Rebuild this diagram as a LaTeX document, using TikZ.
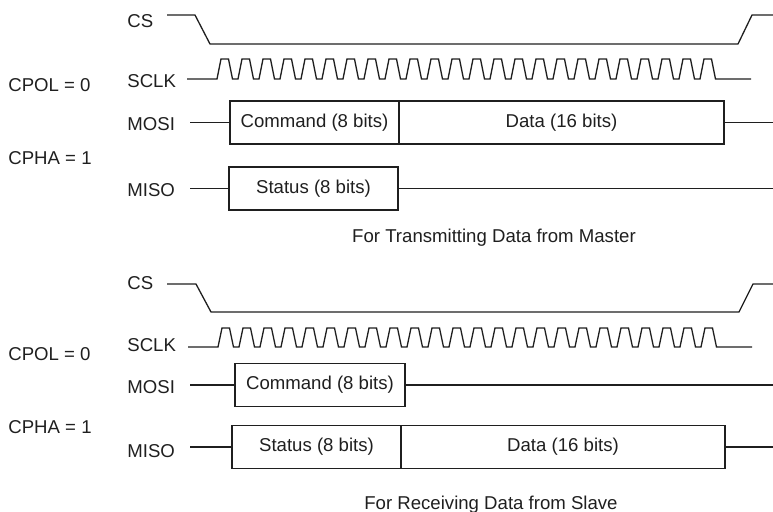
\documentclass[tikz,border=0pt]{standalone}
\usepackage{fontspec}
\setmainfont{Liberation Sans}
\usetikzlibrary{positioning}
\colorlet{myink}{black!88}
\tikzset{
  sig/.style={myink, line width=0.65pt, line join=miter},
  sig label/.style={anchor=base west, inner sep=0, text=myink},
  field/.style={draw=myink, line width=0.65pt, rectangle, minimum height=21.5pt, inner sep=0, outer sep=0, text=myink},
  caption/.style={anchor=base, inner sep=0, text=myink}
}

\begin{document}
\begin{tikzpicture}[x=0.5pt, y=-0.5pt, font=\fontsize{9.3}{11}\selectfont]
\useasboundingbox (0,0) rectangle (773,511);
\coordinate (rim) at (773,0);

% Transmitting data from master
\node[sig label] (csA) at (127,27) {CS};
\node[sig label] (sclkA) at (127,87) {SCLK};
\node[sig label] (mosiA) at (127,130) {MOSI};
\node[sig label] (misoA) at (127,196) {MISO};
\node[sig label] (cpolA) at (8,91) {CPOL = 0};
\node[sig label] (cphaA) at (8,164) {CPHA = 1};

\node[field, minimum width=84.5pt] (cmdA) at (314.5,122.5) {Command (8 bits)};
\node[field, minimum width=162.5pt, right=0pt of cmdA] (dataA) {Data (16 bits)};
\node[field, minimum width=84.5pt] (statusA) at (313.5,188.5) {Status (8 bits)};

\node[caption] (capA) at (494,242) {For Transmitting Data from Master};

\draw[sig] (167,15) -- ++(28,0) -- ++(15,29) -- (738,44) -- ++(14,-29) -- (773,15);
\draw[sig] (187,79) -- ++(30,0)
  foreach \k in {0,...,23} { -- ++(4,-20) -- ++(7.5,0) -- ++(4,20) -- ++(5.5,0) }
  -- (751,79);
\draw[sig, shorten <=7.5pt] (mosiA.east |- cmdA) -- (cmdA);
\draw[sig] (dataA.east) -- (dataA.east -| rim);
\draw[sig, shorten <=7.5pt] (misoA.east |- statusA) -- (statusA);
\draw[sig] (statusA.east) -- (statusA.east -| rim);

% Receiving data from slave
\node[sig label] (csB) at (127,289) {CS};
\node[sig label] (sclkB) at (127,351) {SCLK};
\node[sig label] (mosiB) at (127,393) {MOSI};
\node[sig label] (misoB) at (127,457) {MISO};
\node[sig label] (cpolB) at (8,360) {CPOL = 0};
\node[sig label] (cphaB) at (8,433) {CPHA = 1};

\node[field, minimum width=85pt] (cmdB) at (320,385) {Command (8 bits)};
\node[field, minimum width=84.5pt] (statusB) at (316.5,447) {Status (8 bits)};
\node[field, minimum width=162pt, right=0pt of statusB] (dataB) {Data (16 bits)};

\node[caption] (capB) at (491,509) {For Receiving Data from Slave};

\draw[sig] (167,284) -- ++(29,0) -- ++(15,28) -- (739,312) -- ++(14,-28) -- (773,284);
\draw[sig] (188,347) -- ++(30,0)
  foreach \k in {0,...,23} { -- ++(4,-19) -- ++(7.5,0) -- ++(4,19) -- ++(5.5,0) }
  -- (752,347);
\draw[sig, shorten <=7.5pt] (mosiB.east |- cmdB) -- (cmdB);
\draw[sig] (cmdB.east) -- (cmdB.east -| rim);
\draw[sig, shorten <=7.5pt] (misoB.east |- statusB) -- (statusB);
\draw[sig] (dataB.east) -- (dataB.east -| rim);

\end{tikzpicture}
\end{document}
